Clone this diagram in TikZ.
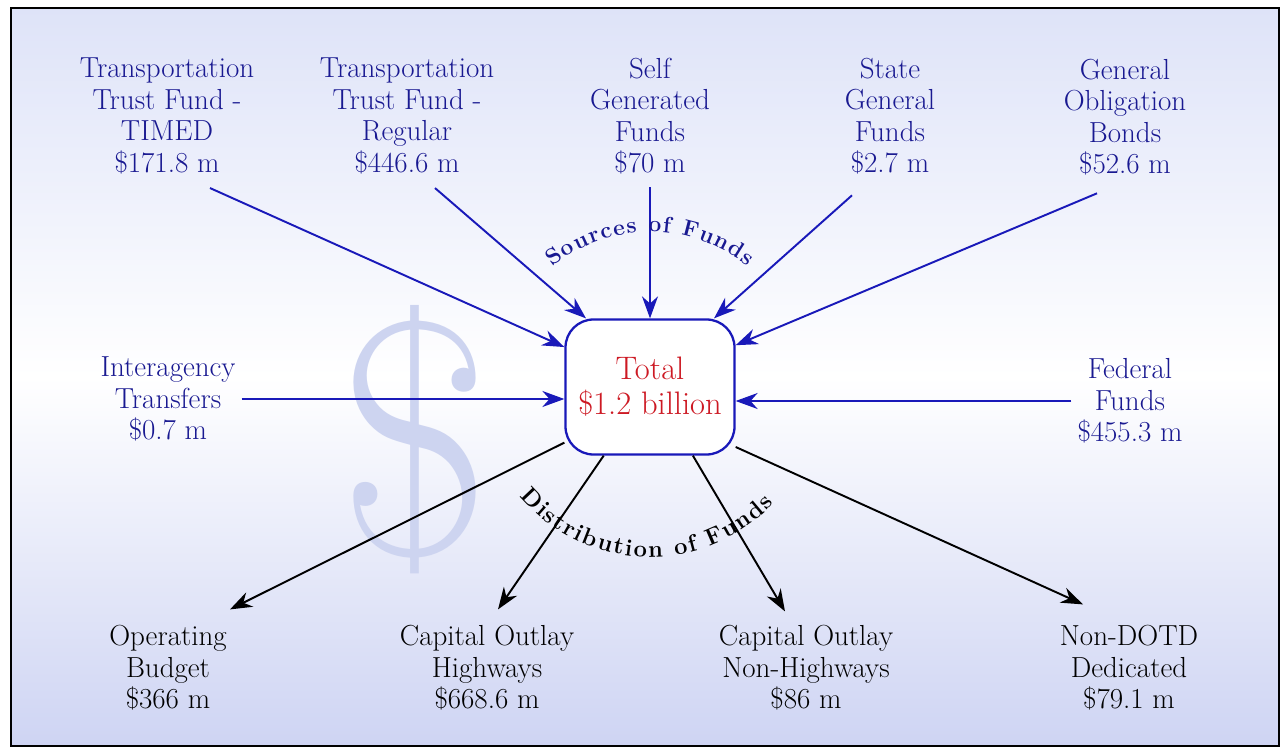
\documentclass[tikz,border=0pt]{standalone}
\usetikzlibrary{arrows.meta,calc,decorations.text}

\definecolor{fundblue}{RGB}{25,25,145}
\definecolor{lineblue}{RGB}{25,25,185}
\definecolor{totalred}{RGB}{205,25,35}
\definecolor{topblue}{RGB}{222,227,248}
\definecolor{lowblue}{RGB}{206,212,243}
\definecolor{signblue}{RGB}{205,212,240}

\tikzset{
  source/.style={align=center, text=fundblue, font=\fontsize{16.5}{17.9}\selectfont},
  target/.style={align=center, text=black, font=\fontsize{16.5}{17.9}\selectfont},
  totalbox/.style={draw=lineblue, line width=1.3pt, fill=white, rounded corners=0.56cm,
    minimum width=3.38cm, minimum height=2.7cm, align=center, text=totalred,
    font=\fontsize{18.5}{20}\selectfont},
  inflow/.style={draw=lineblue, line width=1.1pt, -{Stealth[length=4.4mm,width=3.2mm]}},
  outflow/.style={draw=black, line width=1.1pt, -{Stealth[length=4.4mm,width=3.2mm]}},
}

\begin{document}
\begin{tikzpicture}

  \useasboundingbox (0,0) rectangle (25.72,15);

  % background and frame
  \shade[top color=topblue, bottom color=lowblue, middle color=white] (0.22,0.08) rectangle (25.58,14.84);
  \node[text=signblue, font=\fontsize{190}{190}\selectfont] (bigsign) at (8.3,6.2) {\$};
  \draw[line width=1.3pt] (0.22,0.08) rectangle (25.58,14.84);

  % sources
  \node[source] (timed) at (3.34,12.68) {Transportation\\Trust Fund -\\TIMED\\\$171.8 m};
  \node[source] (regular) at (8.14,12.68) {Transportation\\Trust Fund -\\Regular\\\$446.6 m};
  \node[source] (self) at (13.0,12.68) {Self\\Generated\\Funds\\\$70 m};
  \node[source] (state) at (17.8,12.68) {State\\General\\Funds\\\$2.7 m};
  \node[source] (bonds) at (22.5,12.66) {General\\Obligation\\Bonds\\\$52.6 m};
  \node[source] (inter) at (3.36,7.02) {Interagency\\Transfers\\\$0.7 m};
  \node[source] (federal) at (22.6,6.98) {Federal\\Funds\\\$455.3 m};

  \node[totalbox] (total) at (13.0,7.26) {Total\\\$1.2 billion};

  % distribution
  \node[target] (operating) at (3.36,1.64) {Operating\\Budget\\\$366 m};
  \node[target] (highways) at (9.74,1.64) {Capital Outlay\\Highways\\\$668.6 m};
  \node[target] (nonhigh) at (16.12,1.64) {Capital Outlay\\Non-Highways\\\$86 m};
  \node[target] (nondotd) at (22.58,1.64) {Non-DOTD\\Dedicated\\\$79.1 m};

  \draw[inflow] ([xshift=0.86cm,yshift=-0.16cm]timed.south) -- (total.155);
  \draw[inflow] ([xshift=0.56cm,yshift=-0.16cm]regular.south) -- (total.133);
  \draw[inflow] ([yshift=-0.14cm]self.south) -- (total.north);
  \draw[inflow] ([xshift=-0.76cm,yshift=-0.3cm]state.south) -- (total.47);
  \draw[inflow] ([xshift=-0.56cm,yshift=-0.24cm]bonds.south) -- (total.26);
  \draw[inflow] (inter.east) -- (inter.east -| total.west);
  \draw[inflow] (federal.west) -- (federal.west -| total.east);

  \draw[outflow] (total.213) -- ([xshift=1.24cm,yshift=0.2cm]operating.north);
  \draw[outflow] (total.236) -- ([xshift=0.22cm,yshift=0.2cm]highways.north);
  \draw[outflow] (total.302) -- ([xshift=-0.42cm,yshift=0.16cm]nonhigh.north);
  \draw[outflow] (total.325) -- ([xshift=-0.92cm,yshift=0.3cm]nondotd.north);

  % curved captions
  \path[decorate, decoration={text along path, text color=fundblue, text align=fit to path,
      text={|\bfseries\fontsize{13}{15}\selectfont|Sources of Funds}}]
    ($(total.center)+(129:3.1)$) arc[start angle=129, end angle=51, radius=3.1];
  \path[decorate, decoration={text along path, text color=black, text align=fit to path,
      text={|\bfseries\fontsize{13.5}{16}\selectfont|Distribution of Funds}}]
    ($(total.center)+(220:3.4)$) arc[start angle=220, end angle=317, radius=3.4];

\end{tikzpicture}
\end{document}
